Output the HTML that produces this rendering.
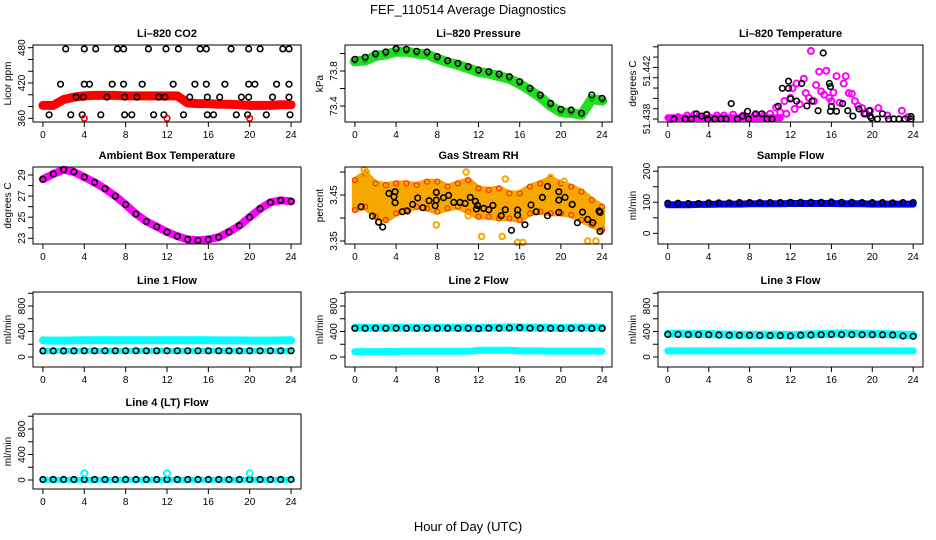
<!DOCTYPE html>
<html><head><meta charset="utf-8"><title>FEF_110514 Average Diagnostics</title>
<style>
html,body{margin:0;padding:0;background:#fff;}
svg{display:block;font-family:"Liberation Sans",Arial,sans-serif;}
</style></head>
<body>
<svg id="chart" width="936" height="540" viewBox="0 0 936 540" xmlns="http://www.w3.org/2000/svg">
<text x="468" y="14" font-size="13" text-anchor="middle">FEF_110514  Average Diagnostics</text>
<text x="468" y="531" font-size="13" text-anchor="middle">Hour of Day (UTC)</text>
</svg>
<script>
// ---------- data ----------
const xTicks = [0,4,8,12,16,20,24];
const hours = [0,1,2,3,4,5,6,7,8,9,10,11,12,13,14,15,16,17,18,19,20,21,22,23,24];

// CO2
const co2Band = [382,382,392,396,398,399,399,399,398,398,398,398,398,398,386,385,385,384,384,383,382,382,382,383,383];
const co2BlackH = [2.2,4.0,5.1,7.2,7.8,10.2,11.9,13.1,15.2,15.8,18.2,19.9,21.0,23.2,23.8,
  1.7,4.0,4.5,6.7,7.8,9.6,12.6,14.7,15.8,17.6,19.9,20.5,22.6,23.8,
  3.2,3.9,6.2,7.9,9.1,11.2,11.8,14.2,15.9,17.1,19.2,19.9,22.2,23.8,
  0.6,2.7,3.8,5.6,7.9,8.6,10.7,11.7,13.6,15.9,16.5,18.7,19.8,21.6,23.9];
const co2BlackV = [478,478,478,478,478,478,478,478,478,478,478,478,478,478,478,
  418,418,418,418,418,418,418,418,418,418,418,418,418,418,
  396,396,396,396,396,396,396,396,396,396,396,396,396,396,
  366,366,366,366,366,366,366,366,366,366,366,366,366,366,366];
const co2RedH = [4,12,20];
const co2RedV = [360,360,360];

// Pressure
const presBlack = [73.933,73.956,73.998,74.017,74.055,74.048,74.025,74.017,73.964,73.918,73.888,73.850,73.811,73.792,73.766,73.735,73.678,73.602,73.526,73.430,73.362,73.354,73.316,73.526,73.488];
const presGreen = [73.91,73.92,73.97,73.99,74.02,74.02,74.00,73.99,73.94,73.90,73.87,73.83,73.79,73.77,73.74,73.71,73.65,73.58,73.50,73.40,73.33,73.32,73.30,73.48,73.46];

// Li-820 temperature
const tMagH = [0.3,1.0,1.9,2.6,3.8,4.8,5.5,6.4,7.4,8.5,9.4,10.0,10.6,11.0,11.4,11.6,12.0,12.2,12.4,12.6,12.9,13.3,13.5,13.8,14.0,14.3,14.5,14.8,15.0,15.3,15.5,15.8,16.0,16.2,16.5,16.8,17.2,17.4,17.7,18.0,18.3,18.6,19.0,19.4,19.8,20.6,21.5,22.9,23.5];
const tMagV = [51.43800,51.43816,51.43829,51.43837,51.43837,51.43829,51.43829,51.43837,51.43829,51.43829,51.43829,51.43843,51.43896,51.43856,51.43949,51.43843,51.43976,51.44056,51.43883,51.44096,51.43923,51.44136,51.44016,51.43976,51.44368,51.43949,51.44083,51.44195,51.44029,51.44003,51.44203,51.43976,51.43949,51.44021,51.44157,51.43936,51.44096,51.44157,51.44016,51.44011,51.43949,51.43909,51.43891,51.43843,51.43869,51.43891,51.43829,51.43869,51.43816];
const tBlkH = [0.6,1.7,2.3,2.8,3.3,3.8,3.9,4.6,5.2,5.7,6.2,6.8,7.3,7.8,7.9,8.6,9.2,9.7,10.2,10.8,11.2,11.8,11.8,12.0,12.6,13.1,13.6,14.1,14.7,15.2,15.8,15.9,15.9,16.0,16.5,17.1,17.6,18.1,18.7,19.2,19.7,19.8,19.9,20.5,21.0,21.6,22.1,22.6,23.2,23.8,23.8];
const tBlkV = [51.43800,51.43800,51.43800,51.43843,51.43824,51.43835,51.43800,51.43800,51.43800,51.43800,51.43928,51.43800,51.43824,51.43864,51.43800,51.43843,51.43843,51.43800,51.43800,51.43907,51.44056,51.44056,51.44115,51.43968,51.43949,51.44096,51.43909,51.43949,51.43869,51.44350,51.44096,51.44070,51.43864,51.43904,51.43864,51.43928,51.43869,51.43824,51.43883,51.43843,51.43869,51.43824,51.43808,51.43800,51.43843,51.43800,51.43800,51.43800,51.43800,51.43821,51.43800];

// Ambient box temperature
const ambBand = [28.6,29.1,29.5,29.3,28.8,28.3,27.7,27.0,26.2,25.3,24.6,24.1,23.6,23.2,22.9,22.8,22.9,23.1,23.6,24.2,25.0,25.8,26.4,26.6,26.5];

// Gas stream RH
const rhUpper = [3.4826,3.4971,3.4754,3.4717,3.4754,3.4754,3.4717,3.4790,3.4790,3.4681,3.4754,3.4826,3.4645,3.4609,3.4645,3.4536,3.4536,3.4681,3.4754,3.4862,3.4754,3.4681,3.4572,3.4391,3.4246];
const rhLower = [3.4174,3.4246,3.4029,3.3957,3.4101,3.4174,3.4246,3.4210,3.4138,3.4210,3.4246,3.4138,3.4029,3.4029,3.3993,3.3993,3.3957,3.4101,3.4138,3.4101,3.4101,3.4065,3.3957,3.3848,3.3739];
const rhScatH = [0.9,1.1,10.8,12.3,14.3,15.8,16.3,22.6,23.4,2.3,7.9,11.0,14.6,19.0,20.3];
const rhScatV = [3.505,3.500,3.500,3.360,3.360,3.347,3.347,3.350,3.350,3.390,3.385,3.405,3.485,3.488,3.480];
const rhBlkH = [0.6,1.7,2.3,2.7,3.3,3.8,3.9,3.9,4.6,5.1,5.6,6.1,6.6,7.2,7.8,7.9,7.9,8.6,9.1,9.6,10.2,10.7,11.2,11.7,11.8,11.9,12.5,13.0,13.4,14.2,14.6,15.2,15.8,15.8,16.5,17.1,17.6,18.2,18.7,18.7,19.8,19.8,19.8,20.4,21.1,21.6,22.1,22.6,23.1,23.7,23.8,23.8];
const rhBlkV = [3.4246,3.4043,3.3913,3.3804,3.4536,3.4464,3.4572,3.4333,3.4138,3.4152,3.4297,3.4435,3.4225,3.4377,3.4268,3.4391,3.4558,3.4442,3.4493,3.4341,3.4341,3.4319,3.4449,3.4362,3.4196,3.4275,3.4210,3.4181,3.4275,3.4051,3.4181,3.3732,3.4174,3.4065,3.3855,3.4283,3.4138,3.4449,3.4051,3.4688,3.4572,3.4391,3.4123,3.4449,3.4297,3.3899,3.4130,3.3971,3.3899,3.4152,3.4123,3.3710];

// Sample flow
const sampBand = [92,92,92,93,93,94,94,94,95,95,95,95,96,96,96,96,96,95,95,95,94,94,94,94,94];
const sampBlack = [97,97,96,96,98,98,98,99,99,99,99,99,100,100,100,100,101,100,100,99,99,99,98,99,99];

// Line flows
const l1Upper = [260,258,258,260,262,262,262,263,263,263,262,262,262,262,262,262,262,261,261,260,258,258,258,260,262];
const l1Lower = [95,95,95,95,96,96,96,96,96,96,96,96,96,96,96,96,96,96,96,96,96,96,96,96,96];
const l1Black = [95,95,96,96,97,97,97,97,97,97,97,97,97,97,97,97,97,97,97,97,97,97,97,97,97];
const l2Upper = [460,460,460,460,458,460,460,460,460,460,460,460,455,460,462,465,465,462,460,460,455,460,460,462,460];
const l2Black = [450,450,450,450,452,450,450,450,450,450,450,450,445,452,452,455,460,452,452,450,450,450,450,448,448];
const l2Lower = [85,85,85,85,88,90,90,90,90,90,90,90,105,105,105,105,95,95,95,92,92,92,92,92,92];
const l3Upper = [365,365,362,362,360,355,352,350,350,348,348,348,345,350,355,360,365,368,368,365,362,360,355,350,345];
const l3Black = [355,355,352,350,350,345,342,340,340,338,336,335,330,342,345,350,355,352,352,350,350,348,345,330,325];
const l3Lower = [95,95,95,95,95,95,96,96,96,96,96,96,96,96,96,96,96,96,96,96,96,96,96,96,96];
const l4Band = [5,5,5,5,5,5,5,5,5,5,5,5,5,5,5,5,5,5,5,5,5,5,5,5,5];
const l4Black = [8,8,8,8,8,8,8,8,8,8,8,8,8,8,8,8,8,8,8,8,8,8,8,8,8];
const l4SpikeH = [4,12,20];
const l4SpikeV = [105,105,105];

// axis tick values
const co2Ticks = [360,380,400,420,440,460,480];
const co2Labels = [360,420,480];
const presTicks = [73.4,73.6,73.8,74.0];
const presLabels = [73.4,73.8];
const tempTicks = [51.438,51.43886,51.43972,51.44058,51.44144,51.4423,51.44316,51.44402];
const tempLabels = [51.438,51.442];
const ambTicks = [23,24,25,26,27,28,29];
const ambLabels = [23,25,27,29];
const rhTicks = [3.35,3.40,3.45,3.50];
const rhLabels = [3.35,3.45];
const sampTicks = [0,50,100,150,200];
const sampLabels = [0,100,200];
const flowTicks = [0,200,400,600,800,1000];
const flowLabels = [0,400,800];

// ---------- drawing ----------
const NS = "http://www.w3.org/2000/svg";
const svg = document.getElementById('chart');
const colL = [33,345,658], colR = [301,612,923];
const rowT = [45,167,292,414], rowB = [122,244,367,489];

function el(tag, parent){ const e = document.createElementNS(NS, tag); parent.appendChild(e); return e; }

function makePanel(name, title, ylab, col, row, d0, d1, ticks, labels, fmt){
  const g = el('g', svg);
  
  
  const L = colL[col], R = colR[col], T = rowT[row], B = rowB[row];
  const xs = h => L + (h + 0.96) / 25.92 * (R - L);
  const ys = v => B - (v - d0) / (d1 - d0) * (B - T);
  const marks = el('g', g);
  
  
  const box = el('rect', g);
  
  
  box.setAttribute('x', L); box.setAttribute('y', T);
  box.setAttribute('width', R - L); box.setAttribute('height', B - T);
  box.setAttribute('fill', 'none'); box.setAttribute('stroke', '#000'); box.setAttribute('stroke-width', '1');
  const t = el('text', g);
  
  
  t.setAttribute('x', (L + R) / 2); t.setAttribute('y', T - 8);
  t.setAttribute('font-size', '11'); t.setAttribute('font-weight', 'bold'); t.setAttribute('text-anchor', 'middle');
  t.textContent = title;
  // x axis
  const xa = el('g', g);
  
  
  const xl = el('line', xa);
  xl.setAttribute('x1', xs(xTicks[0])); xl.setAttribute('x2', xs(xTicks[xTicks.length-1]));
  xl.setAttribute('y1', B); xl.setAttribute('y2', B); xl.setAttribute('stroke', '#000');
  xTicks.forEach(v => {
    const tk = el('line', xa);
    
    
    tk.setAttribute('x1', xs(v)); tk.setAttribute('x2', xs(v)); tk.setAttribute('y1', B); tk.setAttribute('y2', B + 5); tk.setAttribute('stroke', '#000');
    const tl = el('text', xa);
    
    
    tl.setAttribute('x', xs(v)); tl.setAttribute('y', B + 16); tl.setAttribute('font-size', '10'); tl.setAttribute('text-anchor', 'middle');
    tl.textContent = v;
  });
  // y axis
  const ya = el('g', g);
  
  
  const yl = el('line', ya);
  yl.setAttribute('x1', L); yl.setAttribute('x2', L);
  yl.setAttribute('y1', ys(ticks[0])); yl.setAttribute('y2', ys(ticks[ticks.length-1])); yl.setAttribute('stroke', '#000');
  ticks.forEach(v => {
    const tk = el('line', ya);
    
    
    tk.setAttribute('x1', L - 5); tk.setAttribute('x2', L); tk.setAttribute('y1', ys(v)); tk.setAttribute('y2', ys(v)); tk.setAttribute('stroke', '#000');
  });
  labels.forEach(v => {
    const tl = el('text', ya);
    
    
    const x = L - 8, y = ys(v);
    tl.setAttribute('x', x); tl.setAttribute('y', y); tl.setAttribute('font-size', '10'); tl.setAttribute('text-anchor', 'middle');
    tl.setAttribute('transform', 'rotate(-90 ' + x + ' ' + y + ')');
    tl.textContent = fmt ? fmt(v) : v;
  });
  const yt = el('text', ya);
  
  
  const yx = L - 22, yy = (T + B) / 2;
  yt.setAttribute('x', yx); yt.setAttribute('y', yy); yt.setAttribute('font-size', '10'); yt.setAttribute('text-anchor', 'middle');
  yt.setAttribute('transform', 'rotate(-90 ' + yx + ' ' + yy + ')');
  yt.textContent = ylab;
  return {xs, ys, marks};
}

function band(p, hs, vals, color, width, nm){
  const pl = el('polyline', p.marks);
  
  
  pl.setAttribute('points', hs.map((h,i) => p.xs(h).toFixed(1) + ',' + p.ys(vals[i]).toFixed(1)).join(' '));
  pl.setAttribute('fill', 'none'); pl.setAttribute('stroke', color); pl.setAttribute('stroke-width', width);
  pl.setAttribute('stroke-linejoin', 'round'); pl.setAttribute('stroke-linecap', 'round');
}
function area(p, hs, up, lo, color, nm){
  const pg = el('polygon', p.marks);
  
  
  const a = hs.map((h,i) => p.xs(h).toFixed(1) + ',' + p.ys(up[i]).toFixed(1));
  const b = hs.map((h,i) => p.xs(h).toFixed(1) + ',' + p.ys(lo[i]).toFixed(1)).reverse();
  pg.setAttribute('points', a.concat(b).join(' '));
  pg.setAttribute('fill', color); pg.setAttribute('stroke', color); pg.setAttribute('stroke-width', '6'); pg.setAttribute('stroke-linejoin', 'round');
}
function pts(p, hs, vals, color, nm, r, sw){
  hs.forEach((h,i) => {
    const c = el('circle', p.marks);
    
    
    c.setAttribute('cx', p.xs(h).toFixed(1)); c.setAttribute('cy', p.ys(vals[i]).toFixed(1));
    c.setAttribute('r', r || 2.8); c.setAttribute('fill', 'none'); c.setAttribute('stroke', color); c.setAttribute('stroke-width', sw || 1.6);
  });
}

// Panel 1: CO2
let p = makePanel('co2-panel', 'Li\u2013820 CO2', 'Licor ppm', 0, 0, 353.7, 484.6, co2Ticks, co2Labels);
band(p, hours, co2Band, '#ff0000', 9, 'co2-band');
pts(p, hours, co2Band, '#ff0000', 'co2-point', 3, 2);
pts(p, co2BlackH, co2BlackV, '#000', 'co2-avg-point');
pts(p, co2RedH, co2RedV, '#ff0000', 'co2-low-point');

// Panel 2: Pressure
p = makePanel('pressure-panel', 'Li\u2013820 Pressure', 'kPa', 1, 0, 73.217, 74.097, presTicks, presLabels);
band(p, hours, presGreen, '#1ee01e', 10, 'pressure-band');
pts(p, hours, presGreen, '#118a11', 'pressure-point', 2, 1);
pts(p, hours, presBlack, '#000', 'pressure-avg-point');

// Panel 3: Li-820 temperature
p = makePanel('li820-temp-panel', 'Li\u2013820 Temperature', 'degrees C', 2, 0, 51.43775, 51.44417, tempTicks, tempLabels);
band(p, [0,11], [51.4381,51.4381], '#ff00ff', 7, 'temp-baseline-band');
pts(p, tMagH, tMagV, '#ff00ff', 'temp-point', 3, 2);
pts(p, tBlkH, tBlkV, '#000', 'temp-avg-point');

// Panel 4: Ambient box temperature
p = makePanel('ambient-temp-panel', 'Ambient Box Temperature', 'degrees C', 0, 1, 22.46, 29.76, ambTicks, ambLabels);
band(p, hours, ambBand, '#ff00ff', 8, 'ambient-band');
pts(p, hours, ambBand, '#000', 'ambient-avg-point');

// Panel 5: Gas stream RH
p = makePanel('rh-panel', 'Gas Stream RH', 'percent', 1, 1, 3.3435, 3.511, rhTicks, rhLabels, v => v.toFixed(2));
area(p, hours, rhUpper, rhLower, '#f6a800', 'rh-band');
pts(p, hours, rhUpper, '#ff3000', 'rh-point', 2.5, 1.2);
pts(p, hours, rhLower, '#ff3000', 'rh-point', 2.5, 1.2);
pts(p, rhScatH, rhScatV, '#f6a800', 'rh-outlier', 2.8, 2);
pts(p, rhBlkH, rhBlkV, '#000', 'rh-avg-point');

// Panel 6: Sample flow
p = makePanel('sample-flow-panel', 'Sample Flow', 'ml/min', 2, 1, -34.3, 213.5, sampTicks, sampLabels);
band(p, hours, sampBand, '#0000ff', 7, 'sample-band');
pts(p, hours, sampBlack, '#000', 'sample-avg-point');

// Panel 7: Line 1
p = makePanel('line1-panel', 'Line 1 Flow', 'ml/min', 0, 2, -157, 1020, flowTicks, flowLabels);
band(p, hours, l1Upper, '#00ffff', 8, 'line1-upper-band');
band(p, hours, l1Lower, '#00ffff', 6, 'line1-lower-band');
pts(p, hours, l1Black, '#000', 'line1-avg-point');

// Panel 8: Line 2
p = makePanel('line2-panel', 'Line 2 Flow', 'ml/min', 1, 2, -157, 1020, flowTicks, flowLabels);
band(p, hours, l2Upper, '#00ffff', 8, 'line2-upper-band');
band(p, hours, l2Lower, '#00ffff', 7, 'line2-lower-band');
pts(p, hours, l2Black, '#000', 'line2-avg-point');

// Panel 9: Line 3
p = makePanel('line3-panel', 'Line 3 Flow', 'ml/min', 2, 2, -157, 1020, flowTicks, flowLabels);
band(p, hours, l3Upper, '#00ffff', 8, 'line3-upper-band');
band(p, hours, l3Lower, '#00ffff', 7, 'line3-lower-band');
pts(p, hours, l3Black, '#000', 'line3-avg-point');

// Panel 10: Line 4
p = makePanel('line4-panel', 'Line 4 (LT) Flow', 'ml/min', 0, 3, -141, 1035, flowTicks, flowLabels);
band(p, hours, l4Band, '#00ffff', 6, 'line4-band');
pts(p, hours, l4Black, '#000', 'line4-avg-point');
pts(p, l4SpikeH, l4SpikeV, '#00ffff', 'line4-spike-point', 3, 2);
</script>
</body></html>
